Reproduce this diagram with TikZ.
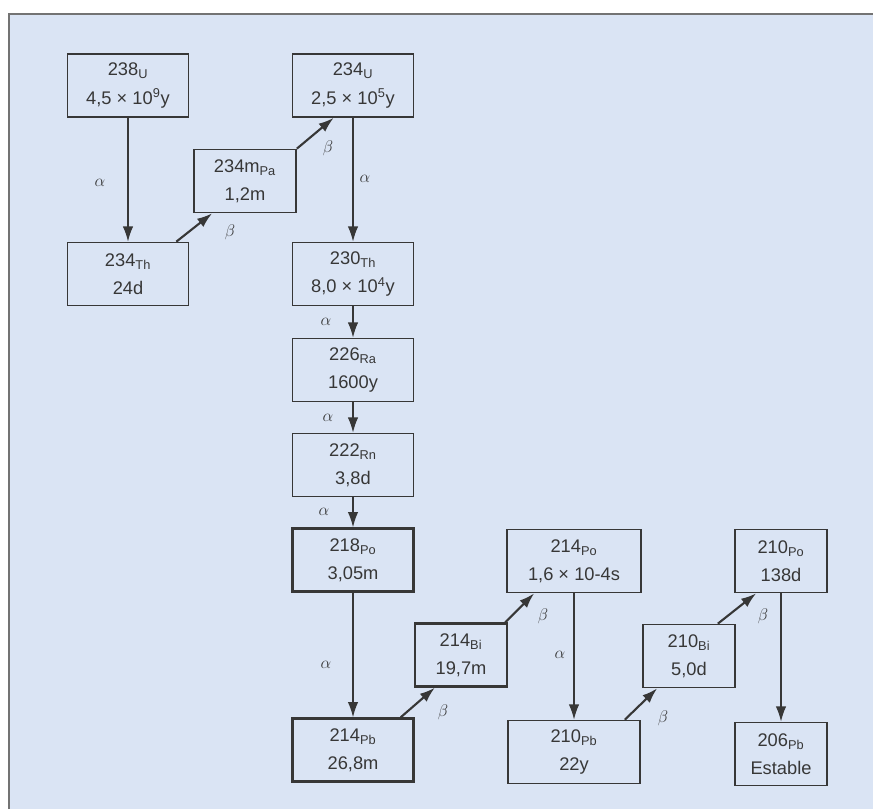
\documentclass[tikz,border=0pt]{standalone}
\usepackage{fontspec}
\setmainfont{Liberation Sans}
\usetikzlibrary{arrows.meta}
\definecolor{paper}{RGB}{218,228,244}
\definecolor{ink}{RGB}{55,55,55}

\begin{document}
\begin{tikzpicture}[x=0.025cm,y=-0.025cm,
  nuc/.style={draw=ink,line width=1.2pt,inner sep=0pt,minimum height=1.575cm,
    align=center,text=ink,font=\fontsize{13}{20}\selectfont},
  wide/.style={nuc,minimum width=3.025cm},
  narrow/.style={nuc,minimum width=2.3cm},
  heavy/.style={line width=1.7pt},
  decay/.style={draw=ink,line width=1pt,-{Latex[length=3.8mm,width=2.6mm]}},
  beta/.style={decay,line width=1.5pt},
  lbl/.style={text=ink,font=\fontsize{13}{15}\selectfont}]

\useasboundingbox (0,0) rectangle (873,809);
\fill[paper] (9,14) rectangle (873,809);
\draw[ink!70,line width=1.2pt] (9,809) -- (9,14) -- (873,14);

% uranium series boxes
\node[wide] (U238) at (128,85.5) {238\textsubscript{U}\\4,5 × 10\textsuperscript{9}y};
\node[wide] (U234) at (353,85.5) {234\textsubscript{U}\\2,5 × 10\textsuperscript{5}y};
\node[nuc,minimum width=2.55cm] (Pa234) at (245,181) {234m\textsubscript{Pa}\\1,2m};
\node[wide] (Th234) at (128,274) {234\textsubscript{Th}\\24d};
\node[wide] (Th230) at (353,274) {230\textsubscript{Th}\\8,0 × 10\textsuperscript{4}y};
\node[wide] (Ra226) at (353,370) {226\textsubscript{Ra}\\1600y};
\node[wide] (Rn222) at (353,465) {222\textsubscript{Rn}\\3,8d};
\node[wide,heavy] (Po218) at (353,560) {218\textsubscript{Po}\\3,05m};
\node[wide,heavy] (Pb214) at (353,750) {214\textsubscript{Pb}\\26,8m};
\node[narrow,heavy] (Bi214) at (461,655) {214\textsubscript{Bi}\\19,7m};
\node[nuc,minimum width=3.35cm] (Po214) at (574,561) {214\textsubscript{Po}\\1,6 × 10-4s};
\node[nuc,minimum width=3.3cm] (Pb210) at (574,752) {210\textsubscript{Pb}\\22y};
\node[narrow] (Bi210) at (689,656) {210\textsubscript{Bi}\\5,0d};
\node[narrow] (Po210) at (781,561) {210\textsubscript{Po}\\138d};
\node[narrow] (Pb206) at (781,754) {206\textsubscript{Pb}\\Estable};

% alpha steps
\draw[decay] (U238) -- (Th234);
\draw[decay] (U234) -- (Th230);
\draw[decay] (Th230) -- (Ra226);
\draw[decay] (Ra226) -- (Rn222);
\draw[decay] (Rn222) -- (Po218);
\draw[decay] (Po218) -- (Pb214);
\draw[decay] (Po214) -- (Pb210);
\draw[decay] (Po210) -- (Pb206);

% beta steps
\draw[beta] ([xshift=-0.325cm]Th234.north east) -- ([xshift=0.475cm]Pa234.south west);
\draw[beta] (Pa234.north east) -- ([xshift=1.05cm]U234.south west);
\draw[beta] ([xshift=-0.35cm]Pb214.north east) -- ([xshift=0.525cm]Bi214.south west);
\draw[beta] ([xshift=-0.075cm]Bi214.north east) -- ([xshift=0.7cm]Po214.south west);
\draw[beta] ([xshift=-0.4cm]Pb210.north east) -- ([xshift=0.375cm]Bi210.south west);
\draw[beta] ([xshift=-0.45cm]Bi210.north east) -- ([xshift=0.55cm]Po210.south west);

% labels
\node[lbl] (a1) at (100,183) {$\alpha$};
\node[lbl] (a2) at (365,179) {$\alpha$};
\node[lbl] (a3) at (326,322) {$\alpha$};
\node[lbl] (a4) at (328,418) {$\alpha$};
\node[lbl] (a5) at (324,512) {$\alpha$};
\node[lbl] (a6) at (326,665) {$\alpha$};
\node[lbl] (a7) at (560,655) {$\alpha$};
\node[lbl] (b1) at (230,232) {$\beta$};
\node[lbl] (b2) at (328,148) {$\beta$};
\node[lbl] (b3) at (443,712) {$\beta$};
\node[lbl] (b4) at (543,616) {$\beta$};
\node[lbl] (b5) at (663,718) {$\beta$};
\node[lbl] (b6) at (763,616) {$\beta$};
\end{tikzpicture}
\end{document}
